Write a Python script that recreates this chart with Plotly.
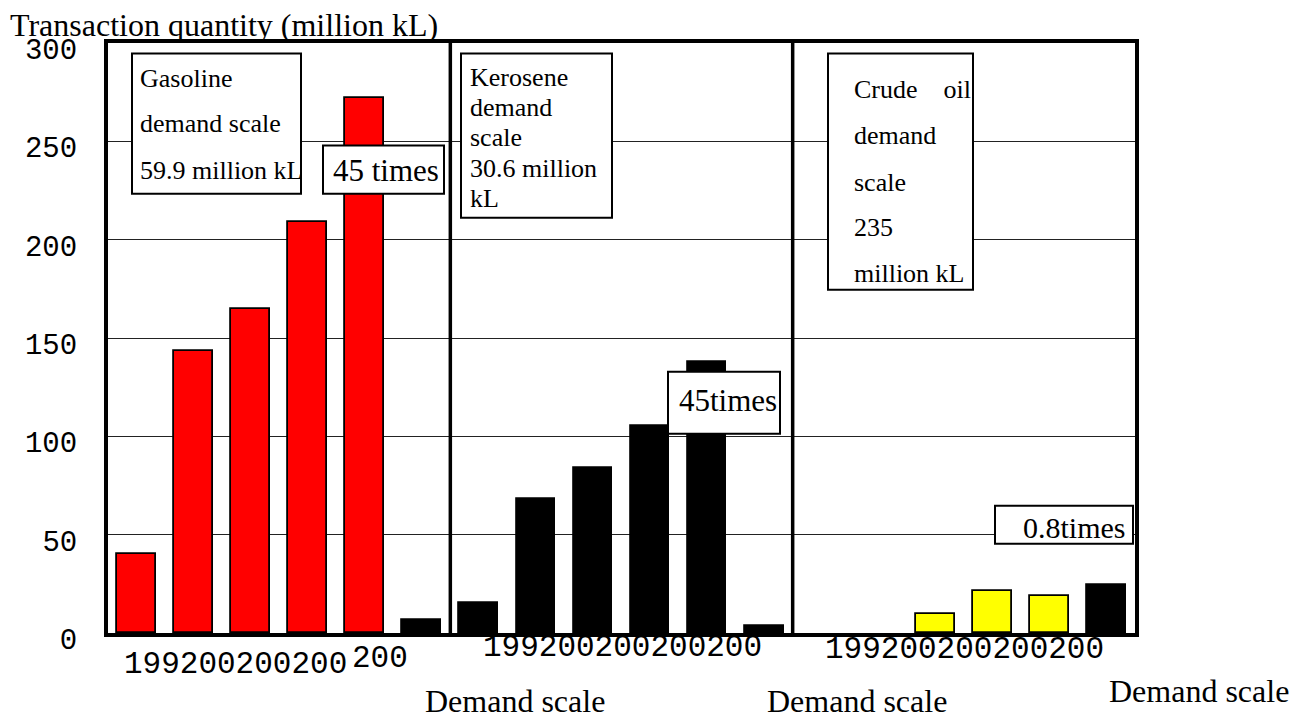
import plotly.graph_objects as go

# ---------------- data ----------------
panels = ["Gasoline", "Kerosene", "Crude oil"]
gasoline_trend = [40.0, 143.5, 164.5, 209.0, 272.0]
gasoline_scale = [6.8]
kerosene_trend = [15.2, 68.1, 83.9, 105.4, 137.6]
kerosene_scale = [3.7]
crude_trend = [None, None, 9.8, 21.2, 19.0]
crude_scale = [24.4]

box_texts = {
    "Gasoline": ["Gasoline", "demand scale", "59.9 million kL"],
    "Kerosene": ["Kerosene", "demand", "scale", "30.6 million", "kL"],
    "Crude oil": ["Crude\u00a0\u00a0\u00a0\u00a0oil", "demand", "scale", "235", "million kL"],
}
ratio_texts = ["45 times", "45times", "0.8times"]
year_labels = ["199200200200", "200", "199200200200200", "199200200200200"]
scale_label = "Demand scale"
y_title = "Transaction quantity (million kL)"
y_ticks = [0, 50, 100, 150, 200, 250, 300]

# ---------------- layout geometry (page pixels, 1302x719 window) ----------------
PAGE_OFF = 8                      # default body margin of the html page
W, H = 1302 - PAGE_OFF, 719 - PAGE_OFF
L, R, T, B = 108, 1135, 43.4, 633.3   # plot area in page pixels
SLOTS = 6
BW = 0.68

def px(x):
    return (x - L) / (R - L)

def py(y):
    return (B - y) / (B - T)

serif = "Liberation Serif, Times New Roman, serif"
mono = "Liberation Mono, Courier New, monospace"

fig = go.Figure()

def slots(panel, n):
    return [panel * SLOTS + i for i in range(n)]

bar_line = dict(color="black", width=1.8)
fig.add_bar(x=slots(0, 5), y=gasoline_trend, width=BW,
            marker=dict(color="#ff0000", line=bar_line))
fig.add_bar(x=[0 * SLOTS + 5], y=gasoline_scale, width=BW,
            marker=dict(color="black", line=bar_line))
fig.add_bar(x=slots(1, 5), y=kerosene_trend, width=BW,
            marker=dict(color="black", line=bar_line))
fig.add_bar(x=[1 * SLOTS + 5], y=kerosene_scale, width=BW,
            marker=dict(color="black", line=bar_line))
fig.add_bar(x=slots(2, 5), y=crude_trend, width=BW,
            marker=dict(color="#ffff00", line=bar_line))
fig.add_bar(x=[2 * SLOTS + 5], y=crude_scale, width=BW,
            marker=dict(color="black", line=bar_line))

shapes = []
# panel dividers
for k in (1, 2):
    shapes.append(dict(type="line", xref="x", yref="paper",
                       x0=k * SLOTS - 0.5, x1=k * SLOTS - 0.5, y0=0, y1=1,
                       line=dict(color="black", width=3.5), layer="above"))

# text boxes (page pixel rectangles)
boxes = [
    (132, 301, 54, 194),
    (323, 444, 146, 194),
    (461, 612, 54, 218),
    (828, 973, 54, 290),
    (668, 780, 372, 434),
    (995, 1133, 506, 544),
]
for x0, x1, y0, y1 in boxes:
    shapes.append(dict(type="rect", xref="paper", yref="paper",
                       x0=px(x0), x1=px(x1), y0=py(y1), y1=py(y0),
                       fillcolor="white", line=dict(color="black", width=2),
                       layer="above"))

ann = []

def text(s, x, y, size, font=serif, xanchor="left"):
    ann.append(dict(text=s, xref="paper", yref="paper", x=px(x), y=py(y),
                    xanchor=xanchor, yanchor="middle", showarrow=False,
                    font=dict(family=font, size=size, color="black")))

# box contents
for (name, left, mids) in [
    ("Gasoline", 138, [79, 124, 171]),
    ("Kerosene", 468, [78, 108, 138, 169, 199]),
    ("Crude oil", 852, [90, 136, 183, 228, 274]),
]:
    for line, m in zip(box_texts[name], mids):
        text(line, left, m, 26)

text(ratio_texts[0], 385.5, 171, 31, xanchor="center")
text(ratio_texts[1], 727.5, 401, 31, xanchor="center")
text(ratio_texts[2], 1128, 528, 30, xanchor="right")

# truncated year labels under the panels
for s, x, y in zip(year_labels, [122, 350, 481, 823], [665, 659, 648, 649.5]):
    text(s, x, y, 31, font=mono)

# demand-scale labels
for x, y in [(423, 701), (765, 701), (1107, 691)]:
    text(scale_label, x, y, 32)

# axis title
text(y_title, 8, 25.5, 32)

fig.update_layout(
    width=W, height=H,
    margin=dict(l=L - PAGE_OFF, r=W - (R - PAGE_OFF), t=T - PAGE_OFF,
                b=H - (B - PAGE_OFF), pad=0),
    paper_bgcolor="white", plot_bgcolor="white",
    showlegend=False, bargap=0,
    shapes=shapes, annotations=ann,
    xaxis=dict(range=[-0.5, 3 * SLOTS - 0.5], showticklabels=False,
               showgrid=False, zeroline=False, ticks="",
               showline=True, mirror=True, linecolor="black", linewidth=4),
    yaxis=dict(range=[0, 300], tickvals=y_ticks, ticktext=[str(v) for v in y_ticks],
               showgrid=True, gridcolor="#222222", gridwidth=1,
               zeroline=False, ticks="", ticklabelstandoff=21, ticklabelshift=6,
               tickfont=dict(family=mono, size=29, color="black"),
               showline=True, mirror=True, linecolor="black", linewidth=4),
)

fig.write_html("out.html")
